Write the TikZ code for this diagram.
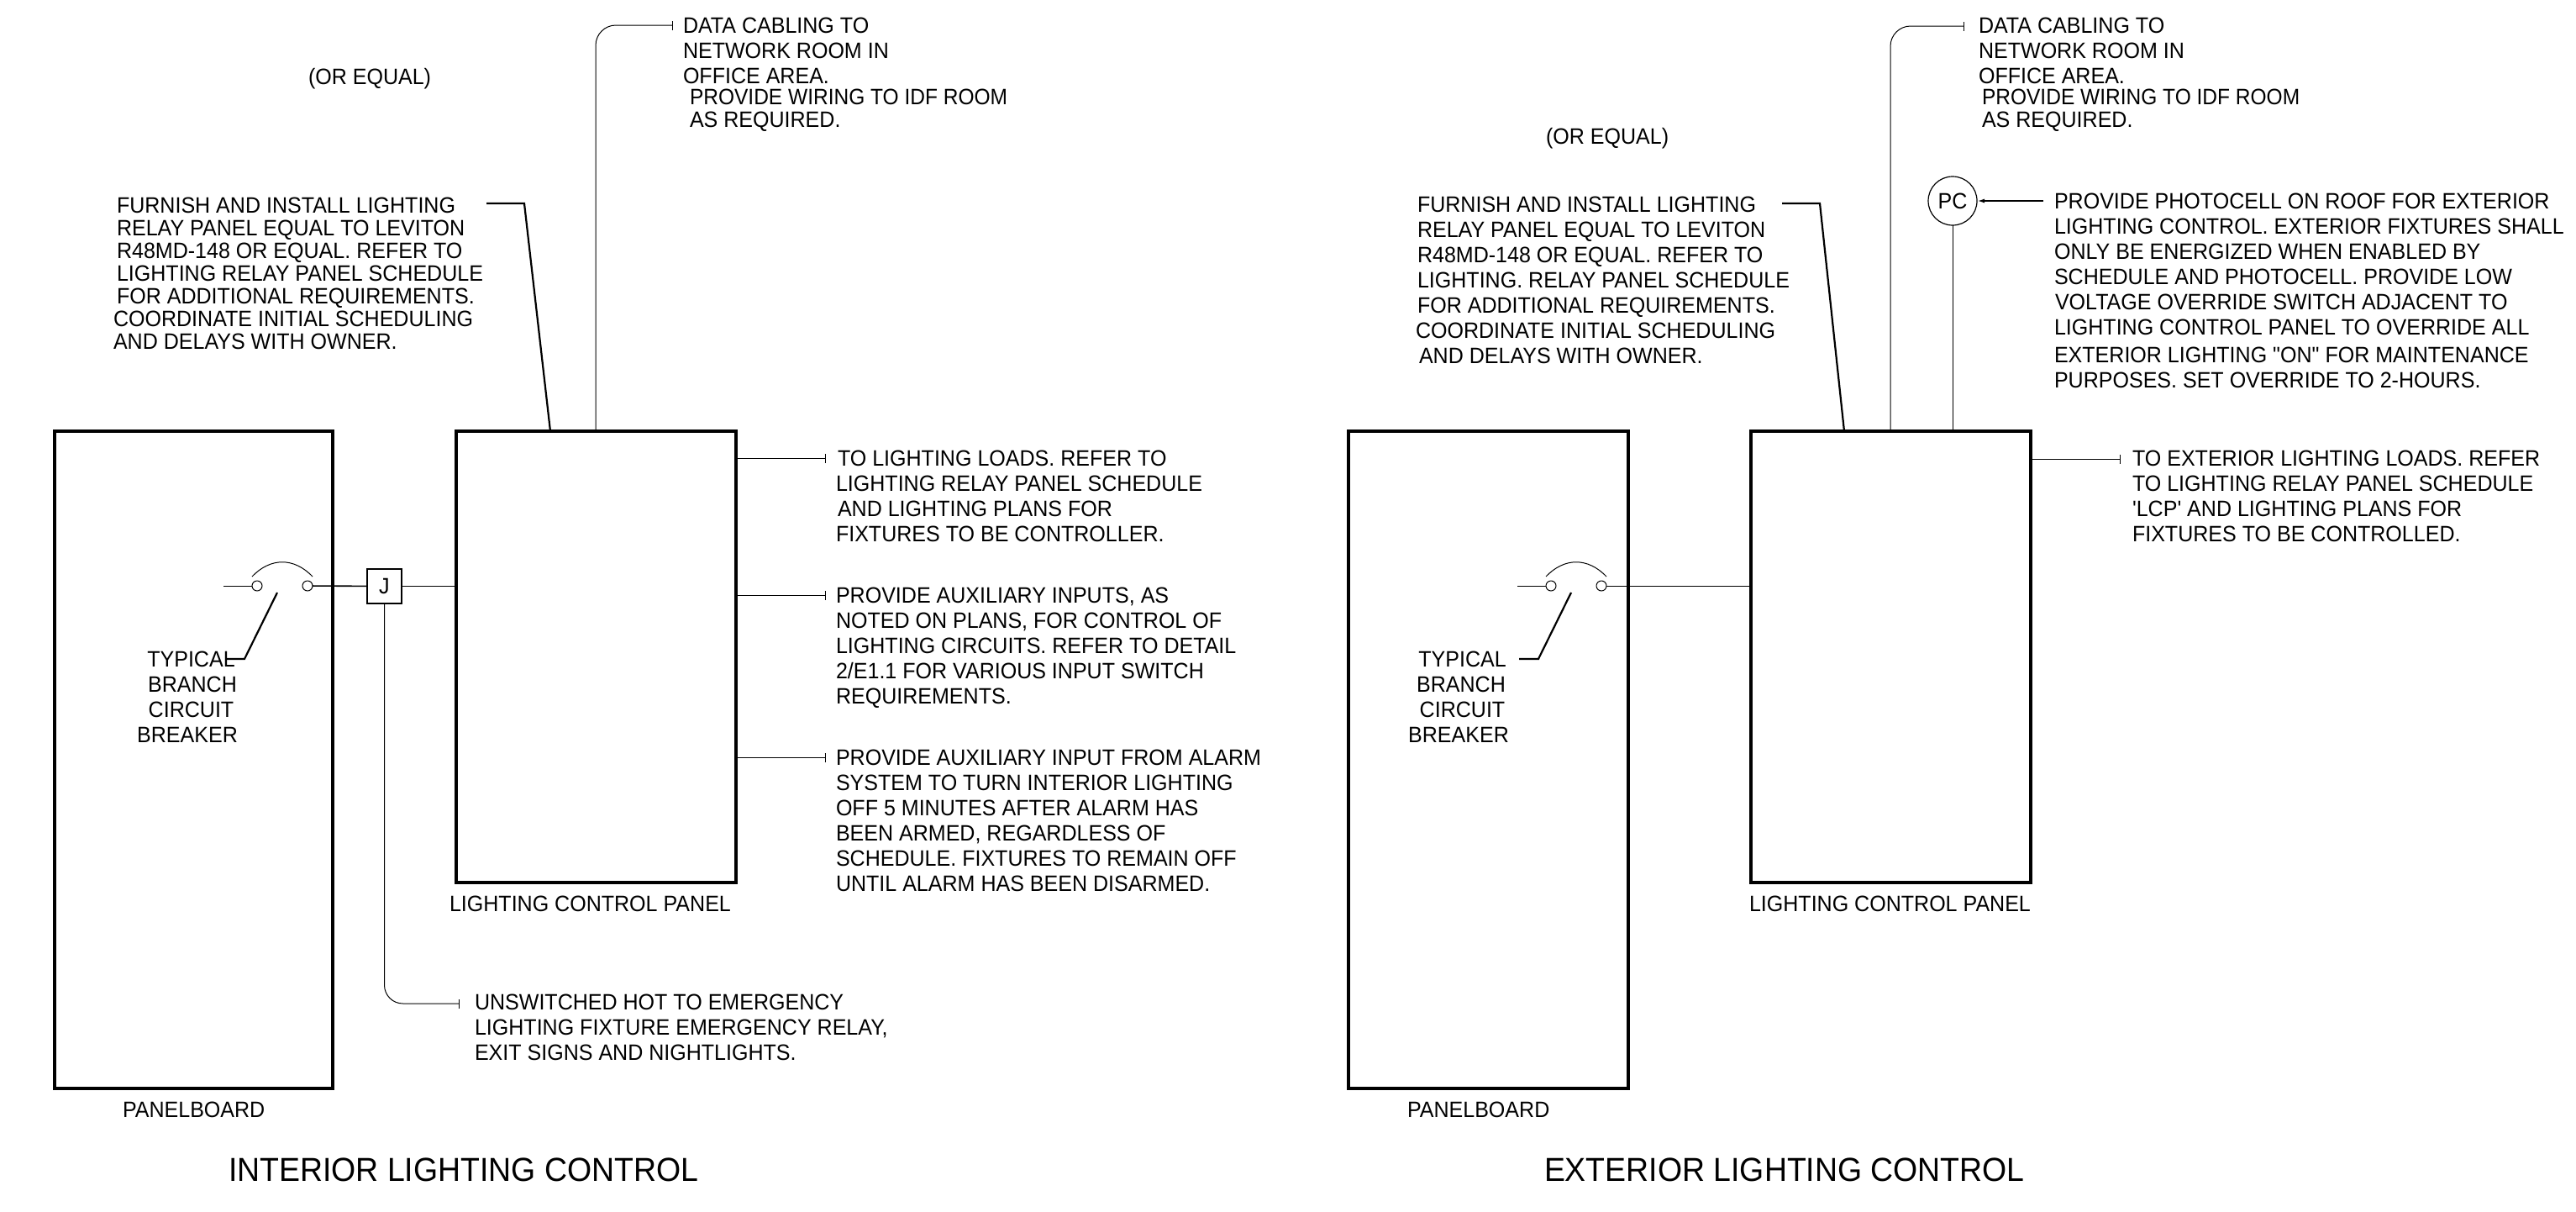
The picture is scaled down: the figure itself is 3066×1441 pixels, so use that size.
\documentclass[tikz,border=0pt]{standalone}
\usepackage{fontspec}
\setmainfont{Liberation Sans}[Ligatures=TeXOff,FakeStretch=0.945]
\newfontfamily\narrowfont{Liberation Sans}[Ligatures=TeXOff,FakeStretch=0.925]
\usetikzlibrary{arrows.meta}
\tikzset{
  blk/.style={anchor=north west,inner sep=0pt,outer sep=0pt,yshift=-0.3pt,align=left,font=\fontsize{26.5}{#1}\selectfont},
  blk/.default=30pt,
  lab/.style={anchor=north west,inner sep=0pt,outer sep=0pt,yshift=-0.3pt,font=\fontsize{26.5}{30}\selectfont},
  ttl/.style={anchor=north west,inner sep=0pt,outer sep=0pt,font=\fontsize{39.6}{46}\selectfont},
  cbl/.style={anchor=north,inner sep=0pt,outer sep=0pt,yshift=-0.3pt,align=center,font=\fontsize{26.5}{30}\selectfont},
  heavybox/.style={draw,line width=3.6pt,anchor=north west,inner sep=0pt,outer sep=0pt,line join=miter},
  wire/.style={line width=1pt},
  feed/.style={line width=1.6pt},
  leader/.style={line width=2.2pt},
  endtick/.style={wire,-{Bar[width=11pt,length=1.5pt]}},
  term/.style={draw,circle,line width=1pt,minimum size=12pt,inner sep=0pt,outer sep=0pt},
  jbox/.style={draw,line width=1.3pt,minimum size=41pt,inner sep=0pt,outer sep=0pt,font=\fontsize{26.5}{30}\selectfont},
  pcnode/.style={draw,circle,line width=1.2pt,minimum size=58pt,inner sep=0pt,outer sep=0pt,font=\fontsize{26.5}{30}\selectfont},
}
\begin{document}
\begin{tikzpicture}[x=1pt,y=-1pt]
\useasboundingbox (0,0) rectangle (3066,1441);
% ---------- INTERIOR ----------
\node[heavybox,minimum width=331pt,minimum height=782pt] (pb1) at (65,513) {};
\node[heavybox,minimum width=333pt,minimum height=537pt] (lcp1) at (543,513) {};
\node[term] (ta1) at (306,697) {};
\node[term] (tb1) at (366,697) {};
\node[jbox] (j1) at (457.5,697.5) {J};
\coordinate (in1) at (266,697);
\draw[wire] (in1) -- (ta1);
\draw[feed] (tb1) -- (j1);
\draw[wire] (j1) -- (j1 -| lcp1.west);
\coordinate (arcA1) at (300,686);
\coordinate (arcB1) at (372,686);
\draw[wire] (arcA1) .. controls (322,663) and (350,663) .. (arcB1);
\coordinate (pa1) at (330,705);
\coordinate (pb1a) at (291,784);
\coordinate (pc1) at (270,784);
\draw[leader] (pa1) -- (pb1a) -- (pc1);
\node[cbl] (tb1txt) at (223,774.5) {\hspace*{9pt}TYPICAL\\\hspace*{12pt}BRANCH\\\hspace*{9pt}CIRCUIT\\BREAKER};
\coordinate (em1) at (547,1194);
\draw[endtick,rounded corners=22pt] (j1.south) -- (j1.south |- em1) -- (em1);
\node[blk] (em1txt) at (565,1182.5) {UNSWITCHED HOT TO EMERGENCY\\LIGHTING FIXTURE EMERGENCY RELAY,\\EXIT SIGNS AND NIGHTLIGHTS.};
\coordinate (d1) at (801,30);
\coordinate (d1b) at (709,513);
\draw[wire,{Bar[width=11pt,length=1.5pt]}-,rounded corners=24pt] (d1) -- (d1 -| d1b) -- (d1b);
\node[blk] (d1txt) at (813,20.5) {DATA CABLING TO\\NETWORK ROOM IN\\OFFICE AREA.};
\node[blk=27.5pt] (d1txtb) at (821,105.5) {\narrowfont PROVIDE WIRING TO IDF ROOM\\AS REQUIRED.};
\node[lab] (oe1) at (367,81) {(OR EQUAL)};
\node[blk=27pt] (f1txt) at (139,234.5) {FURNISH AND INSTALL LIGHTING\\RELAY PANEL EQUAL TO LEVITON\\R48MD-148 OR EQUAL. REFER TO\\LIGHTING RELAY PANEL SCHEDULE\\FOR ADDITIONAL REQUIREMENTS.\\\hspace*{-4pt}COORDINATE INITIAL SCHEDULING\\\hspace*{-4pt}AND DELAYS WITH OWNER.};
\coordinate (fa1) at (579,242);
\coordinate (fb1) at (624,242);
\coordinate (fc1) at (655,513);
\draw[leader] (fa1) -- (fb1) -- (fc1);
\coordinate (r1a) at (876,545);\coordinate (r1b) at (983,545);
\coordinate (r2a) at (876,708);\coordinate (r2b) at (983,708);
\coordinate (r3a) at (876,901);\coordinate (r3b) at (983,901);
\draw[endtick] (r1a) -- (r1b);
\draw[endtick] (r2a) -- (r2b);
\draw[endtick] (r3a) -- (r3b);
\node[blk] (r1txt) at (995,535.5) {\hspace*{2pt}TO LIGHTING LOADS. REFER TO\\LIGHTING RELAY PANEL SCHEDULE\\\hspace*{2pt}AND LIGHTING PLANS FOR\\FIXTURES TO BE CONTROLLER.};
\node[blk] (r2txt) at (995,698.5) {PROVIDE AUXILIARY INPUTS, AS\\NOTED ON PLANS, FOR CONTROL OF\\LIGHTING CIRCUITS. REFER TO DETAIL\\2/E1.1 FOR VARIOUS INPUT SWITCH\\REQUIREMENTS.};
\node[blk] (r3txt) at (995,891.5) {PROVIDE AUXILIARY INPUT FROM ALARM\\SYSTEM TO TURN INTERIOR LIGHTING\\OFF 5 MINUTES AFTER ALARM HAS\\BEEN ARMED, REGARDLESS OF\\SCHEDULE. FIXTURES TO REMAIN OFF\\UNTIL ALARM HAS BEEN DISARMED.};
\node[lab] (lcp1l) at (535,1065.5) {LIGHTING CONTROL PANEL};
\node[lab] (pb1l) at (146,1310.5) {PANELBOARD};
\node[ttl] (t1) at (272,1378) {INTERIOR LIGHTING CONTROL};
% ---------- EXTERIOR ----------
\node[heavybox,minimum width=333pt,minimum height=782pt] (pb2) at (1605,513) {};
\node[heavybox,minimum width=333pt,minimum height=537pt] (lcp2) at (2084,513) {};
\node[term] (ta2) at (1846,697) {};
\node[term] (tb2) at (1906,697) {};
\coordinate (in2) at (1806,697);
\draw[wire] (in2) -- (ta2);
\draw[wire] (tb2) -- (tb2 -| lcp2.west);
\coordinate (arcA2) at (1840,686);
\coordinate (arcB2) at (1912,686);
\draw[wire] (arcA2) .. controls (1862,663) and (1890,663) .. (arcB2);
\coordinate (pa2) at (1870,705);
\coordinate (pb2a) at (1831,784);
\coordinate (pc2) at (1808,784);
\draw[leader] (pa2) -- (pb2a) -- (pc2);
\node[cbl] (tb2txt) at (1736,774.5) {\hspace*{9pt}TYPICAL\\\hspace*{6pt}BRANCH\\\hspace*{9pt}CIRCUIT\\BREAKER};
\coordinate (d2) at (2338,31);
\coordinate (d2b) at (2250,513);
\draw[wire,{Bar[width=11pt,length=1.5pt]}-,rounded corners=24pt] (d2) -- (d2 -| d2b) -- (d2b);
\node[blk] (d2txt) at (2355,20.5) {DATA CABLING TO\\NETWORK ROOM IN\\OFFICE AREA.};
\node[blk=27.5pt] (d2txtb) at (2359,105.5) {\narrowfont PROVIDE WIRING TO IDF ROOM\\AS REQUIRED.};
\node[lab] (oe2) at (1840,152) {(OR EQUAL)};
\node[blk] (f2txt) at (1687,233.5) {FURNISH AND INSTALL LIGHTING\\RELAY PANEL EQUAL TO LEVITON\\R48MD-148 OR EQUAL. REFER TO\\LIGHTING. RELAY PANEL SCHEDULE\\FOR ADDITIONAL REQUIREMENTS.\\\hspace*{-2pt}COORDINATE INITIAL SCHEDULING\\\hspace*{2pt}AND DELAYS WITH OWNER.};
\coordinate (fa2) at (2121,242);
\coordinate (fb2) at (2166,242);
\coordinate (fc2) at (2195,513);
\draw[leader] (fa2) -- (fb2) -- (fc2);
\node[pcnode] (pc) at (2324,239) {PC};
\draw[wire] (pc.south) -- (pc.south |- lcp2.north);
\coordinate (pct) at (2432,239);
\draw[leader,-{Latex[length=9pt,width=5pt]}] (pct) -- (pc.east);
\node[blk] (pctxt) at (2445,229.5) {PROVIDE PHOTOCELL ON ROOF FOR EXTERIOR\\LIGHTING CONTROL. EXTERIOR FIXTURES SHALL\\ONLY BE ENERGIZED WHEN ENABLED BY\\SCHEDULE AND PHOTOCELL. PROVIDE LOW\\\hspace*{1pt}VOLTAGE OVERRIDE SWITCH ADJACENT TO\\LIGHTING CONTROL PANEL TO OVERRIDE ALL\\[3pt]EXTERIOR LIGHTING "ON" FOR MAINTENANCE\\PURPOSES. SET OVERRIDE TO 2-HOURS.};
\coordinate (r4a) at (2416,546);\coordinate (r4b) at (2524,546);
\draw[endtick] (r4a) -- (r4b);
\node[blk] (r4txt) at (2538,535.5) {TO EXTERIOR LIGHTING LOADS. REFER\\TO LIGHTING RELAY PANEL SCHEDULE\\'LCP' AND LIGHTING PLANS FOR\\FIXTURES TO BE CONTROLLED.};
\node[lab] (lcp2l) at (2082,1065.5) {LIGHTING CONTROL PANEL};
\node[lab] (pb2l) at (1675,1310.5) {PANELBOARD};
\node[ttl] (t2) at (1838,1378) {EXTERIOR LIGHTING CONTROL};
\end{tikzpicture}
\end{document}
